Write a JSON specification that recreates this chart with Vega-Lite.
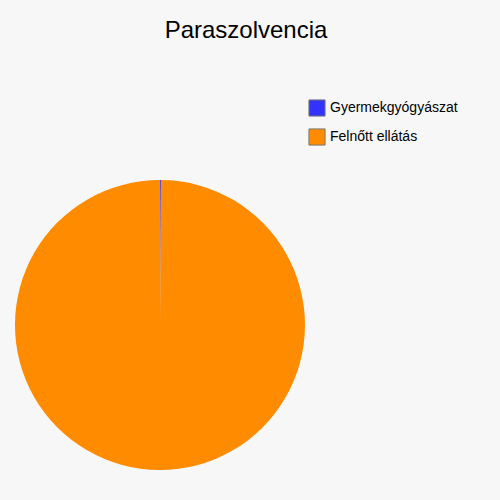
{
  "$schema": "https://vega.github.io/schema/vega-lite/v6.json",
  "width": 290,
  "height": 290,
  "padding": {"left": 15, "top": 180, "right": 195, "bottom": 30},
  "autosize": {"type": "none"},
  "background": "#f7f7f7",
  "title": {
    "text": "Paraszolvencia",
    "anchor": "middle",
    "frame": "group",
    "dx": 86,
    "offset": 56,
    "fontSize": 24,
    "font": "Liberation Sans",
    "fontWeight": "normal",
    "color": "#000000"
  },
  "data": {
    "values": [
      {"ellatas": "Gyermekgyógyászat", "ertek": 0.1, "sorrend": 1},
      {"ellatas": "Felnőtt ellátás", "ertek": 99.9, "sorrend": 2}
    ]
  },
  "mark": {"type": "arc", "outerRadius": 145},
  "encoding": {
    "theta": {"field": "ertek", "type": "quantitative", "stack": true},
    "order": {"field": "sorrend", "type": "quantitative"},
    "color": {
      "field": "ellatas",
      "type": "nominal",
      "scale": {
        "domain": ["Gyermekgyógyászat", "Felnőtt ellátás"],
        "range": ["#3333ff", "#ff8c00"]
      },
      "legend": {
        "title": null,
        "orient": "none",
        "legendX": 293,
        "legendY": -81,
        "symbolType": "square",
        "symbolSize": 260,
        "symbolStrokeColor": "#777777",
        "symbolStrokeWidth": 1,
        "rowPadding": 7,
        "labelFont": "Liberation Sans",
        "labelFontSize": 14,
        "labelColor": "#000000",
        "labelOffset": 4
      }
    }
  },
  "config": {"view": {"stroke": null}}
}
